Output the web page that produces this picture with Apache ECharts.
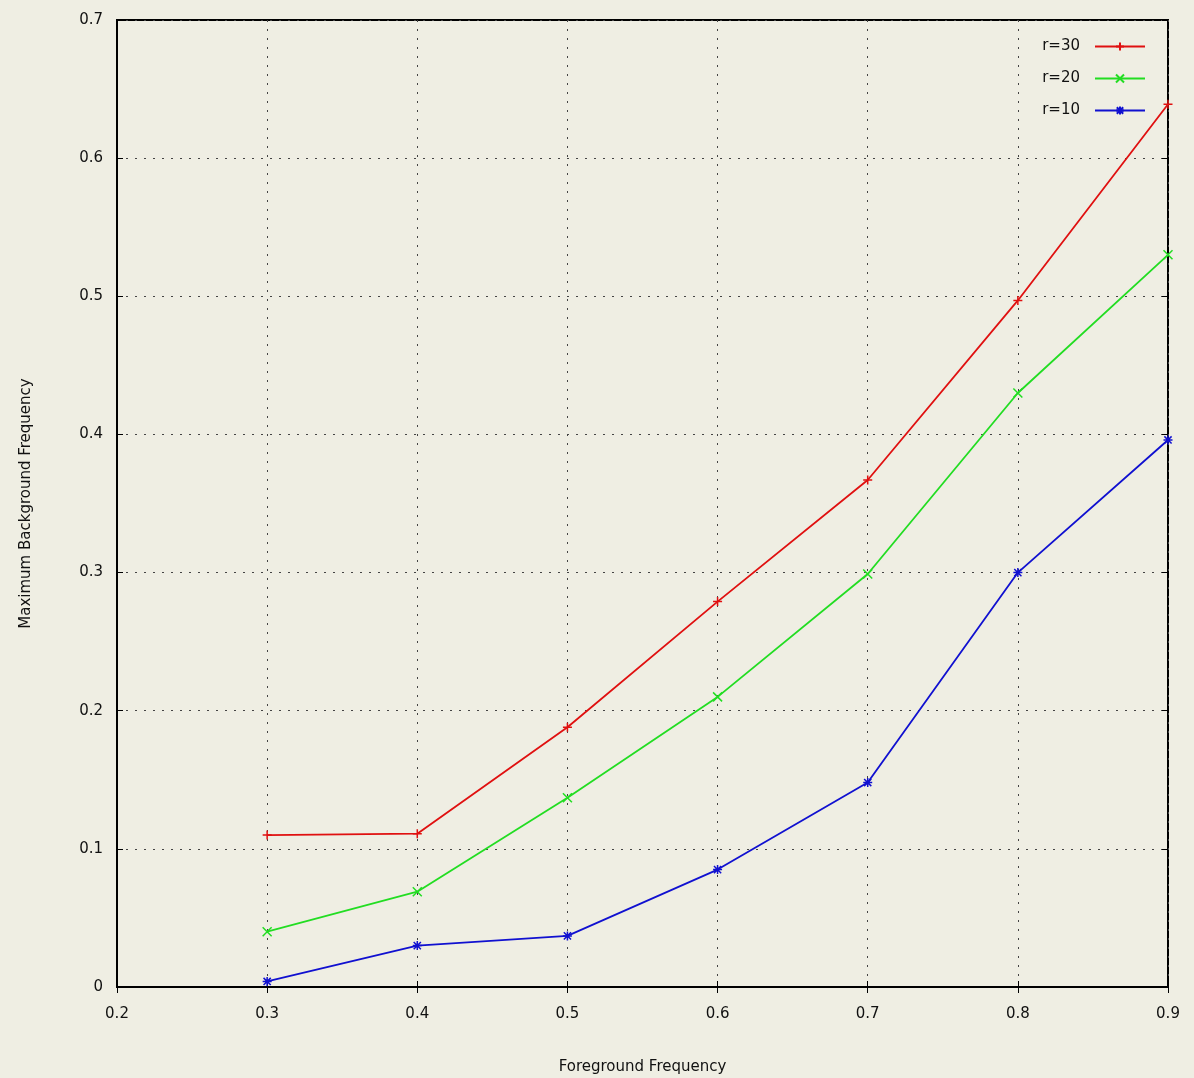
<!DOCTYPE html>
<html>
<head>
<meta charset="utf-8">
<script src="https://cdn.jsdelivr.net/npm/echarts@6/dist/echarts.min.js"></script>
<style>
  html, body { margin: 0; padding: 0; background: #efeee3; }
  #main { width: 1194px; height: 1078px; }
</style>
</head>
<body>
<div id="main"></div>
<script>
// foreground frequency (x) and max background frequency per r
const foreground = [0.3, 0.4, 0.5, 0.6, 0.7, 0.8, 0.9];
const r30 = [0.110, 0.111, 0.188, 0.279, 0.367, 0.497, 0.639];
const r20 = [0.040, 0.069, 0.137, 0.210, 0.299, 0.430, 0.530];
const r10 = [0.004, 0.030, 0.037, 0.085, 0.148, 0.300, 0.396];

const plusPath = 'path://M0,5L10,5M5,0L5,10';
const crossPath = 'path://M0,0L10,10M10,0L0,10';
const starPath = 'path://M0,5L10,5M5,0L5,10M1,1L9,9M9,1L1,9';

var myChart = echarts.init(document.getElementById("main"));

const font = "DejaVu Sans";
const pairs = (ys) => foreground.map((x, i) => [x, ys[i]]);

function mkSeries(name, ys, color, symbol) {
  return {
    name: name,
    type: "line",
    data: pairs(ys),
    symbol: symbol,
    symbolSize: 9,
    lineStyle: { color: color, width: 1.8 },
    itemStyle: { color: color, borderColor: color, borderWidth: 1.5 },
    emphasis: { disabled: true },
  };
}

myChart.setOption({
  backgroundColor: "#efeee3",
  animation: false,
  textStyle: { fontFamily: font },
  grid: {
    left: 117, right: 26, top: 20, bottom: 91,
    outerBoundsMode: "none",
    show: true, borderColor: "#000", borderWidth: 2,
    backgroundColor: "#efeee3",
  },
  legend: {
    orient: "vertical",
    right: 43, top: 34,
    align: "right",
    itemWidth: 50, itemHeight: 10, itemGap: 17,
    textStyle: { fontFamily: font, fontSize: 15, color: "#111", padding: [0, 10, 0, 0] },
    data: ["r=30", "r=20", "r=10"],
  },
  xAxis: [{
    type: "value", min: 0.2, max: 0.9, interval: 0.1,
    name: "Foreground Frequency", nameLocation: "middle", nameGap: 73,
    nameTextStyle: { fontSize: 15, color: "#111" },
    axisLine: { show: true, lineStyle: { color: "#000", width: 2 } },
    axisTick: { show: true, inside: true, length: 6, lineStyle: { color: "#000" } },
    axisLabel: { fontSize: 15, color: "#111", margin: 20, formatter: (v) => v.toFixed(1) },
    splitLine: { show: true, lineStyle: { color: "#444", type: [2, 7], width: 1 } },
  }, {
    type: "value", position: "top", min: 0.2, max: 0.9, interval: 0.1,
    axisLine: { show: false },
    axisTick: { show: true, inside: true, length: 6, lineStyle: { color: "#000" } },
    axisLabel: { show: false }, splitLine: { show: false },
  }],
  yAxis: [{
    type: "value", min: 0, max: 0.7, interval: 0.1,
    name: "Maximum Background Frequency", nameLocation: "middle", nameGap: 83,
    nameTextStyle: { fontSize: 15, color: "#111" },
    axisLine: { show: true, lineStyle: { color: "#000", width: 2 } },
    axisTick: { show: true, inside: true, length: 6, lineStyle: { color: "#000" } },
    axisLabel: { fontSize: 15, color: "#111", margin: 14, formatter: (v) => v === 0 ? "0" : v.toFixed(1) },
    splitLine: { show: true, lineStyle: { color: "#444", type: [2, 7], width: 1 } },
  }, {
    type: "value", position: "right", min: 0, max: 0.7, interval: 0.1,
    axisLine: { show: false },
    axisTick: { show: true, inside: true, length: 6, lineStyle: { color: "#000" } },
    axisLabel: { show: false }, splitLine: { show: false },
  }],
  series: [
    mkSeries("r=30", r30, "#e01010", plusPath),
    mkSeries("r=20", r20, "#22dd22", crossPath),
    mkSeries("r=10", r10, "#1010d0", starPath),
  ],
});
</script>
</body>
</html>
